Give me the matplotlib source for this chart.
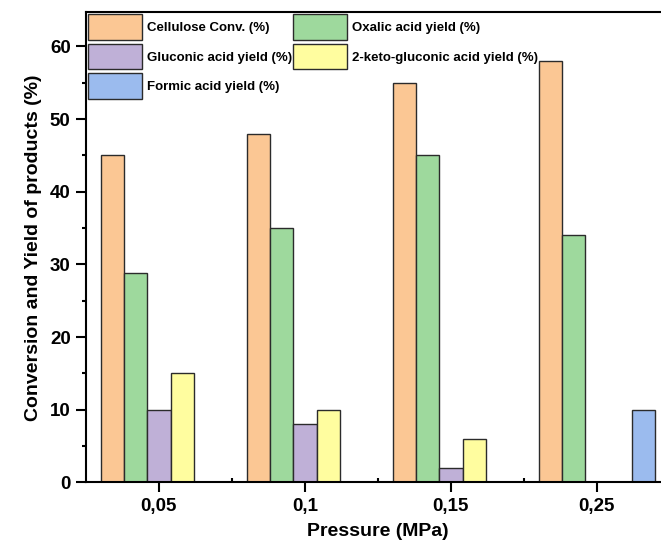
import numpy as np
import matplotlib
matplotlib.use("Agg")
import matplotlib.pyplot as plt

plt.rcParams['font.family'] = ['Liberation Sans', 'DejaVu Sans']
plt.rcParams['font.weight'] = 'bold'

# data
pressure = ['0,05', '0,1', '0,15', '0,25']
cellulose_conv = [45, 48, 55, 58]
oxalic_yield = [28.8, 35, 45, 34]
gluconic_yield = [10, 8, 2, 0]
keto_gluconic_yield = [15, 10, 6, 0]
formic_yield = [0, 0, 0, 10]

series = [
    ('Cellulose Conv. (%)', cellulose_conv, '#FBC794'),
    ('Oxalic acid yield (%)', oxalic_yield, '#9ED99D'),
    ('Gluconic acid yield (%)', gluconic_yield, '#BFB0D7'),
    ('2-keto-gluconic acid yield (%)', keto_gluconic_yield, '#FFFD9F'),
    ('Formic acid yield (%)', formic_yield, '#9BBBEE'),
]

fig = plt.figure(figsize=(6.61, 5.48), dpi=100)
ax = fig.add_axes([0.130, 0.1199, 0.8835, 0.8577])

x = np.arange(len(pressure))
w = 0.16
handles = {}
for i, (name, vals, color) in enumerate(series):
    bars = ax.bar(x + (i - 2) * w, vals, width=w, color=color,
                  edgecolor='#2b2b2b', linewidth=1.0, label=name)
    handles[name] = bars

ax.set_xlim(-0.5, 3.5)
ax.set_ylim(0, 64.7)
ax.set_xticks(x)
ax.set_xticklabels(pressure)
ax.set_xticks([0.5, 1.5, 2.5], minor=True)
ax.set_yticks(np.arange(0, 61, 10))
ax.set_yticks(np.arange(5, 61, 10), minor=True)

for s in ax.spines.values():
    s.set_linewidth(1.5)

ax.tick_params(axis='both', which='major', labelsize=13.5, width=1.5,
               length=7, direction='out', pad=4)
ax.tick_params(axis='y', which='minor', width=1.5, length=3, direction='out')
ax.tick_params(axis='x', which='minor', width=1.5, length=3, direction='in')
for lab in ax.get_xticklabels() + ax.get_yticklabels():
    lab.set_fontweight('bold')

ax.set_xlabel('Pressure (MPa)', fontsize=14, fontweight='bold', labelpad=6)
ax.set_ylabel('Conversion and Yield of products (%)', fontsize=14,
              fontweight='bold', labelpad=6)

# column-wise order so the legend reads row by row like the original
order = ['Cellulose Conv. (%)', 'Gluconic acid yield (%)', 'Formic acid yield (%)',
         'Oxalic acid yield (%)', '2-keto-gluconic acid yield (%)']
ax.legend([handles[n] for n in order], order, loc='upper left', ncol=2,
          frameon=False, prop={'size': 9.5, 'weight': 'bold'},
          handlelength=4.1, handleheight=2.6, handletextpad=0.35,
          labelspacing=0.3, columnspacing=0.1, borderpad=0.05,
          borderaxespad=0.1)

fig.savefig('out.png', dpi=100)
